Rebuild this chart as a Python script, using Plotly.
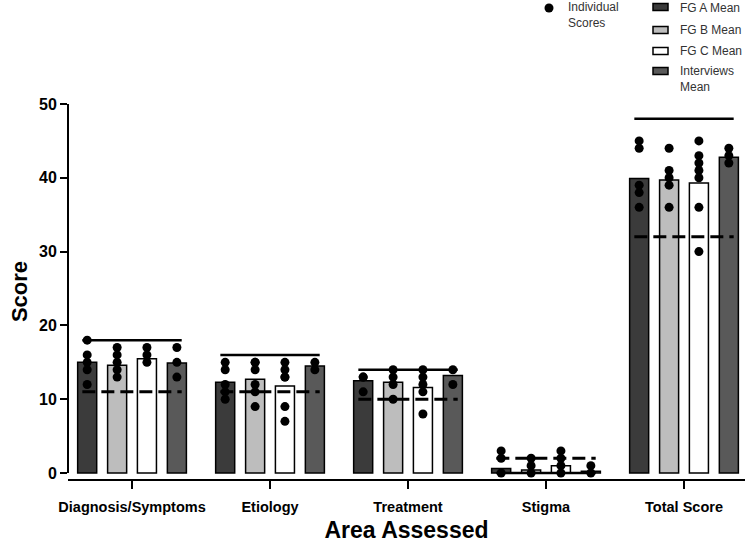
import plotly.graph_objects as go

# ---------------- data ----------------
categories = ["Diagnosis/Symptoms", "Etiology", "Treatment", "Stigma", "Total Score"]
group_names = ["FG A Mean", "FG B Mean", "FG C Mean", "Interviews Mean"]

means_fg_a = [15.0, 12.3, 12.5, 0.6, 39.9]
means_fg_b = [14.6, 12.7, 12.3, 0.4, 39.7]
means_fg_c = [15.5, 11.8, 11.6, 1.0, 39.3]
means_interviews = [14.9, 14.5, 13.2, 0.25, 42.8]

scores_fg_a = [[18, 16, 15, 14, 12], [15, 14, 12, 11, 10], [13, 13, 11], [3, 2, 0], [45, 44, 39, 38, 36]]
scores_fg_b = [[17, 16, 15, 14, 13], [15, 15, 14, 12, 11, 9], [14, 13, 12, 10], [2, 1, 0], [44, 41, 40, 39, 36]]
scores_fg_c = [[17, 16, 15], [15, 14, 13, 13, 9, 7], [14, 13, 12, 11, 8], [3, 2, 1, 0], [45, 43, 42, 41, 40, 36, 30]]
scores_interviews = [[17, 15, 13], [15, 14], [14, 12], [1, 0], [44, 43, 42]]

max_scores = [18, 16, 14, 0, 48]
threshold_scores = [11, 11, 10, 2, 32]

y_ticks = [0, 10, 20, 30, 40, 50]

# ---------------- styling ----------------
bar_colors = ["#3b3b3b", "#bdbdbd", "#ffffff", "#595959"]
offsets = [-0.325, -0.108, 0.108, 0.325]
bar_width = 0.138
line_half = 0.36
FONT = "Liberation Sans"

# plot area in window pixels
L, R, T, B = 68, 745, 104, 479
W, H = 752, 543


def px(x):
    return (x - L) / (R - L)


def py(y):
    return (B - y) / (B - T)


means = [means_fg_a, means_fg_b, means_fg_c, means_interviews]
scores = [scores_fg_a, scores_fg_b, scores_fg_c, scores_interviews]

fig = go.Figure()

# bars
for g, name in enumerate(group_names):
    fig.add_trace(go.Bar(
        x=[i + offsets[g] for i in range(len(categories))],
        y=means[g],
        width=bar_width,
        name=name,
        marker=dict(color=bar_colors[g], line=dict(color="black", width=1.5)),
        showlegend=False,
    ))

# max-score (solid) and threshold (dashed) lines
for i in range(len(categories)):
    fig.add_trace(go.Scatter(
        x=[i - line_half, i + line_half], y=[max_scores[i], max_scores[i]],
        mode="lines", line=dict(color="black", width=2.5),
        showlegend=False, hoverinfo="skip"))
    fig.add_trace(go.Scatter(
        x=[i - line_half, i + line_half], y=[threshold_scores[i], threshold_scores[i]],
        mode="lines", line=dict(color="black", width=3, dash="13px,6px"),
        showlegend=False, hoverinfo="skip"))

# individual scores
for g in range(len(group_names)):
    xs, ys = [], []
    for i in range(len(categories)):
        for v in scores[g][i]:
            xs.append(i + offsets[g])
            ys.append(v)
    fig.add_trace(go.Scatter(
        x=xs, y=ys, mode="markers",
        marker=dict(color="black", size=9),
        name="Individual Scores", showlegend=False))

# ---------------- custom legend ----------------
shapes = []
annotations = []

# y-axis line (0..50)
shapes.append(dict(type="line", xref="paper", yref="y", x0=0, x1=0, y0=0, y1=50,
                   line=dict(color="black", width=2)))

# dot legend
r = 4.5
shapes.append(dict(type="circle", xref="paper", yref="paper",
                   x0=px(549 - r), x1=px(549 + r), y0=py(8 + r), y1=py(8 - r),
                   fillcolor="black", line=dict(color="black", width=0)))
annotations.append(dict(text="Individual<br>Scores", xref="paper", yref="paper",
                        x=px(566), y=py(15), xanchor="left", yanchor="middle",
                        showarrow=False, align="left",
                        font=dict(family=FONT, size=12, color="#333333")))

legend_y = [7, 30, 51, 71]
legend_text_y = [8, 30, 51, 79]
legend_labels = ["FG A Mean", "FG B Mean", "FG C Mean", "Interviews<br>Mean"]
for g in range(4):
    shapes.append(dict(type="rect", xref="paper", yref="paper",
                       x0=px(653), x1=px(668), y0=py(legend_y[g] + 3.5), y1=py(legend_y[g] - 3.5),
                       fillcolor=bar_colors[g], line=dict(color="black", width=1.5)))
    annotations.append(dict(text=legend_labels[g], xref="paper", yref="paper",
                            x=px(678), y=py(legend_text_y[g]), xanchor="left", yanchor="middle",
                            showarrow=False, align="left",
                            font=dict(family=FONT, size=12, color="#333333")))

fig.update_layout(
    width=W, height=H,
    margin=dict(l=L, r=W - R, t=T, b=H - B, autoexpand=False),
    plot_bgcolor="white", paper_bgcolor="white",
    barmode="overlay",
    shapes=shapes, annotations=annotations,
    font=dict(family=FONT, color="black"),
    xaxis=dict(
        range=[-0.464, 4.442],
        tickmode="array", tickvals=list(range(len(categories))), ticktext=categories,
        tickfont=dict(family=FONT, size=14.5, weight="bold", color="black"),
        ticks="outside", ticklen=8, tickwidth=2, tickcolor="black",
        ticklabelstandoff=6,
        showline=True, linecolor="black", linewidth=2,
        showgrid=False, zeroline=False,
        title=dict(text="Area Assessed", standoff=10,
                   font=dict(family=FONT, size=23, weight="bold", color="black")),
    ),
    yaxis=dict(
        range=[-0.81, 50],
        tickmode="array", tickvals=y_ticks, ticktext=[str(t) for t in y_ticks],
        tickfont=dict(family=FONT, size=16, weight="bold", color="black"),
        ticks="outside", ticklen=7, tickwidth=2, tickcolor="black",
        showline=False, showgrid=False, zeroline=False,
        title=dict(text="Score", standoff=5,
                   font=dict(family=FONT, size=22, weight="bold", color="black")),
    ),
)

# remove the page's default body margin so the figure fills the window exactly
fig.write_html(
    "out.html",
    config={"displayModeBar": False},
    post_script="document.body.style.margin='0';document.body.style.overflow='hidden';",
)
